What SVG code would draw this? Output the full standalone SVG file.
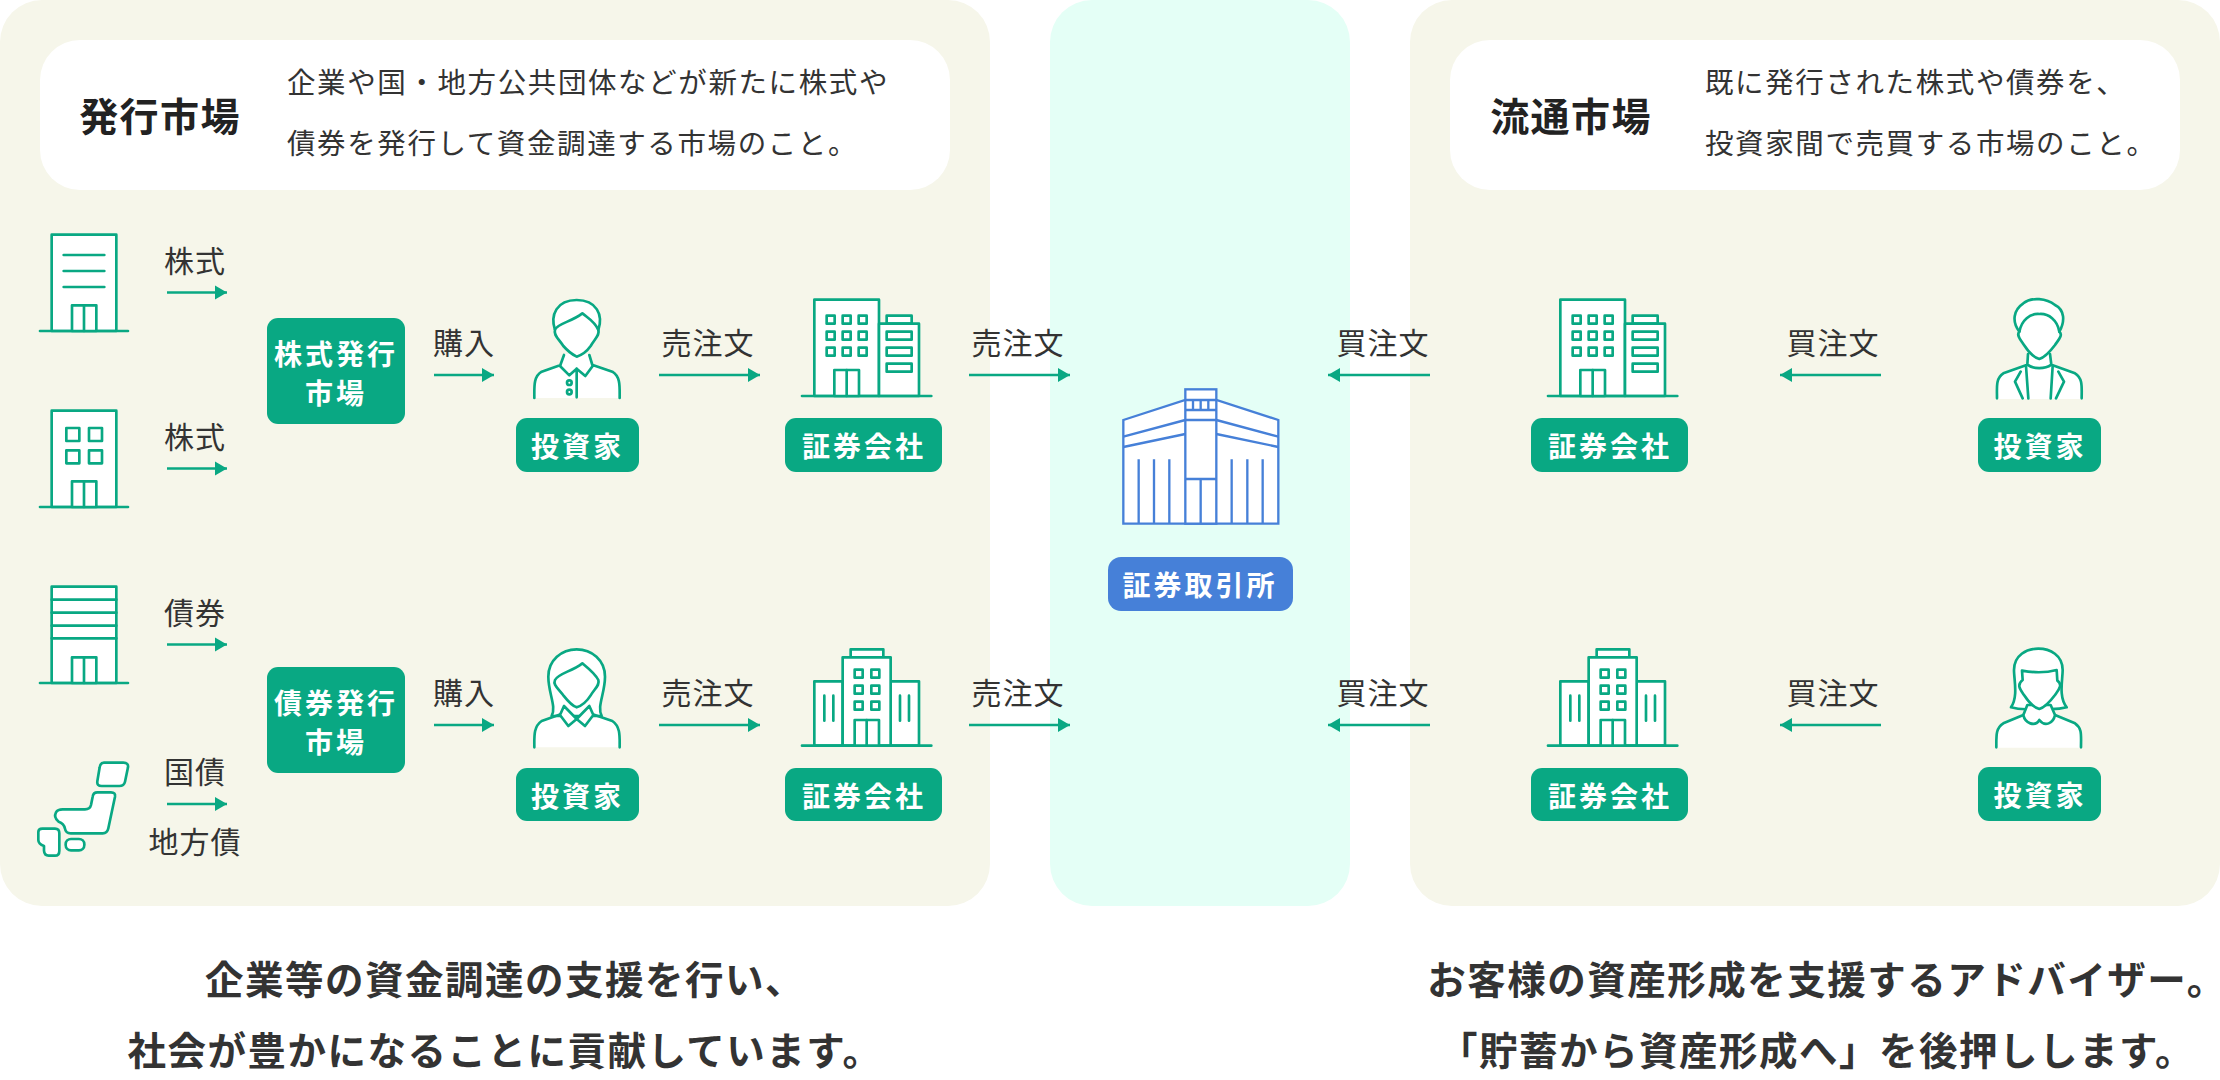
<svg xmlns="http://www.w3.org/2000/svg" xmlns:xlink="http://www.w3.org/1999/xlink" width="2220" height="1080" viewBox="0 0 2220 1080">
<style>
text{font-family:"Noto Sans CJK JP","Noto Sans",sans-serif;text-anchor:middle}
.lbl{font-size:30px;fill:#333;letter-spacing:1px}
.tag{font-size:28px;font-weight:700;fill:#fff;letter-spacing:3px}
.ttl{font-size:39px;font-weight:700;fill:#222;letter-spacing:1.400px}
.desc{font-size:28.500px;fill:#333;letter-spacing:1.600px;text-anchor:start}
.foot{font-size:38.500px;font-weight:700;fill:#333;letter-spacing:1.500px}
.g{fill:#09a883}
.b{fill:#4680d8}
.ic{fill:#fff;stroke:#09a883;stroke-width:8;stroke-linejoin:round;stroke-linecap:round}
.nf{fill:none}
.ib{fill:#fff;stroke:#4680d8;stroke-width:7}
.a{stroke:#09a883;stroke-width:2.600;fill:none}
.e{marker-end:url(#h)}
</style>
<defs>
<marker id="h" markerUnits="userSpaceOnUse" markerWidth="13" markerHeight="15" refX="12" refY="7.500" orient="auto"><path d="M0,0.500 L12,7.500 L0,14.500 Z" fill="#09a883"/></marker>
<g id="b1">
<rect class="ic" x="943" y="59" width="194" height="289"/>
<rect class="ic" x="1160" y="107" width="75" height="24"/>
<rect class="ic" x="1137" y="131" width="120" height="217"/>
<path class="ic" d="M906,348H1294"/>
<rect class="ic" x="1003" y="270" width="74" height="78"/><path class="ic" d="M1040,270V348"/>
<path class="ic nf" d="M980,107h24v24h-24zM1028,107h24v24h-24zM1076,107h24v24h-24zM980,155h24v24h-24zM1028,155h24v24h-24zM1076,155h24v24h-24zM980,203h24v24h-24zM1028,203h24v24h-24zM1076,203h24v24h-24zM1160,155h75v24h-75zM1160,203h75v24h-75zM1160,251h75v24h-75z"/>
</g>
<g id="b2">
<rect class="ic" x="1052" y="88" width="98" height="24"/>
<rect class="ic" x="943" y="184" width="85" height="193"/>
<rect class="ic" x="1172" y="184" width="85" height="193"/>
<rect class="ic" x="1028" y="112" width="144" height="265"/>
<path class="ic" d="M906,377H1294"/>
<rect class="ic" x="1064" y="300" width="73" height="77"/><path class="ic" d="M1100,300V377"/>
<path class="ic nf" d="M1064,149h24v24h-24zM1114,149h24v24h-24zM1064,197h24v24h-24zM1114,197h24v24h-24zM1064,245h24v24h-24zM1114,245h24v24h-24zM973,227v75M1000,227v75M1200,227v75M1227,227v75"/>
</g>
</defs>

<g id="panels">
<rect x="0" y="0" width="990" height="906" rx="42" fill="#f6f6ea"/>
<rect x="1050" y="0" width="300" height="906" rx="42" fill="#e4fff6"/>
<rect x="1410" y="0" width="810" height="906" rx="42" fill="#f6f6ea"/>
</g>

<g id="primary-header">
<rect x="40" y="40" width="910" height="150" rx="40" fill="#fff"/>
<text class="ttl" x="160" y="131">発行市場</text>
<text class="desc" x="287" y="93">企業や国・地方公共団体などが新たに株式や</text>
<text class="desc" x="287" y="154">債券を発行して資金調達する市場のこと。</text>
</g>
<g id="secondary-header">
<rect x="1450" y="40" width="730" height="150" rx="40" fill="#fff"/>
<text class="ttl" x="1571" y="131">流通市場</text>
<text class="desc" x="1705" y="93">既に発行された株式や債券を、</text>
<text class="desc" x="1705" y="154">投資家間で売買する市場のこと。</text>
</g>

<g id="connectors">
<path class="a e" d="M167,292.500H227"/>
<path class="a e" d="M167,468.500H227"/>
<path class="a e" d="M167,644.500H227"/>
<path class="a e" d="M167,804H227"/>
<path class="a e" d="M434,375H494"/>
<path class="a e" d="M434,725H494"/>
<path class="a e" d="M659,375H760"/>
<path class="a e" d="M659,725H760"/>
<path class="a e" d="M969,375H1070"/>
<path class="a e" d="M969,725H1070"/>
<path class="a e" d="M1430,375H1328"/>
<path class="a e" d="M1430,725H1328"/>
<path class="a e" d="M1881,375H1780"/>
<path class="a e" d="M1881,725H1780"/>
</g>

<g id="connector-labels">
<text class="lbl" x="195" y="272">株式</text>
<text class="lbl" x="195" y="448">株式</text>
<text class="lbl" x="195" y="624">債券</text>
<text class="lbl" x="195" y="783">国債</text>
<text class="lbl" x="195" y="853">地方債</text>
<text class="lbl" x="464" y="354">購入</text>
<text class="lbl" x="464" y="704">購入</text>
<text class="lbl" x="708" y="354">売注文</text>
<text class="lbl" x="708" y="704">売注文</text>
<text class="lbl" x="1018" y="354">売注文</text>
<text class="lbl" x="1018" y="704">売注文</text>
<text class="lbl" x="1383" y="354">買注文</text>
<text class="lbl" x="1383" y="704">買注文</text>
<text class="lbl" x="1833" y="354">買注文</text>
<text class="lbl" x="1833" y="704">買注文</text>
</g>

<g id="issuer-1" transform="translate(0 200) scale(.33333)">
<rect class="ic" x="155" y="104" width="194" height="289"/>
<path class="ic" d="M120,393H384M191,165H313M191,213H313M191,261H313"/>
<rect class="ic" x="216" y="316" width="73" height="77"/><path class="ic" d="M252,316V393"/>
</g>
<g id="issuer-2" transform="translate(0 200) scale(.33333)">
<rect class="ic" x="155" y="632" width="194" height="289"/>
<path class="ic" d="M120,921H384"/>
<path class="ic" d="M199,684h39v39h-39zM267,684h39v39h-39zM199,751h39v39h-39zM267,751h39v39h-39z"/>
<rect class="ic" x="216" y="844" width="73" height="77"/><path class="ic" d="M252,844V921"/>
</g>
<g id="issuer-3" transform="translate(0 560) scale(.33333)">
<rect class="ic" x="155" y="80" width="194" height="289"/>
<path class="ic" d="M120,369H384M155,119H349M155,158H349M155,197H349M155,235H349"/>
<rect class="ic" x="216" y="292" width="73" height="77"/><path class="ic" d="M252,292V369"/>
</g>
<g id="issuer-4" transform="translate(0 560) scale(.33333)">
<path class="ic" d="M312,608L370,608Q386,608 384,622L375,665Q372,678 358,678L305,678Q290,678 292,664L299,622Q301,608 312,608Z"/>
<path class="ic" d="M292,697L333,697Q347,697 345,710L325,805Q322,820 308,820L212,820Q197,820 195,806Q192,790 176,785Q160,772 168,757Q173,748 188,748L255,748Q270,748 273,735L278,710Q280,697 292,697Z"/>
<path class="ic" d="M127,806L165,806Q178,806 178,820L178,872Q178,887 165,887L146,887Q133,887 132,872L132,858Q115,852 115,840L115,816Q115,806 127,806Z"/>
<rect class="ic" x="197" y="837" width="56" height="34" rx="16"/>
</g>

<g id="stock-market"><rect class="g" x="267" y="318" width="138" height="106" rx="11"/>
<text class="tag" x="336" y="365">株式発行</text><text class="tag" x="336" y="404">市場</text></g>
<g id="bond-market"><rect class="g" x="267" y="667" width="138" height="106" rx="11"/>
<text class="tag" x="336" y="714">債券発行</text><text class="tag" x="336" y="753">市場</text></g>

<g id="investor-1">
<g transform="translate(500 280) scale(.33333)">
<path d="M103,354C103,320 100,290 125,275L182,255L192,222L268,222L278,255L337,275C362,290 359,320 359,354Z" fill="#fff"/>
<path class="ic nf" d="M103,354C103,320 100,290 125,275L182,255M359,354C359,320 362,290 337,275L278,255M192,225L180,258L208,286L230,266L256,288L278,258L268,225M230,266V352"/>
<path class="ic" d="M165,150C150,105 170,60 230,60C290,60 310,105 295,150C300,165 285,175 272,198C260,215 245,225 230,230C220,225 205,215 190,198C175,175 160,165 165,150Z"/>
<path class="ic nf" d="M165,148C175,130 215,125 247,100C265,115 285,125 295,150"/>
<circle class="ic" cx="208" cy="308" r="7"/><circle class="ic" cx="208" cy="336" r="7"/>
</g>
<rect class="g" x="516" y="418" width="123" height="54" rx="11"/><text class="tag" x="577.500" y="457">投資家</text>
</g>
<g id="securities-1">
<use xlink:href="#b1" href="#b1" transform="translate(500 280) scale(.33333)"/>
<rect class="g" x="785" y="418" width="157" height="54" rx="11"/><text class="tag" x="864" y="457">証券会社</text>
</g>
<g id="investor-2">
<g transform="translate(500 620) scale(.33333)">
<path d="M103,382C103,350 100,320 125,303L182,280L192,250L268,250L278,280L337,303C362,320 359,350 359,382Z" fill="#fff"/>
<path class="ic" d="M155,288C170,260 145,220 145,170C145,120 185,88 230,88C275,88 315,120 315,170C315,220 290,260 305,288Z"/>
<path class="ic nf" d="M103,382C103,350 100,320 125,303L182,283M359,382C359,350 362,320 337,303L278,283"/>
<path class="ic" d="M192,258L180,285L205,318L230,297L255,318L280,285L268,258L230,297Z"/>
<path class="ic" d="M165,180C175,160 215,155 247,130C265,145 285,160 295,180C300,195 285,205 272,226C260,245 245,257 230,262C215,257 205,245 190,226C175,205 158,195 165,180Z"/>
</g>
<rect class="g" x="516" y="768" width="123" height="53" rx="11"/><text class="tag" x="577.500" y="807">投資家</text>
</g>
<g id="securities-2">
<use xlink:href="#b2" href="#b2" transform="translate(500 620) scale(.33333)"/>
<rect class="g" x="785" y="768" width="157" height="53" rx="11"/><text class="tag" x="864" y="807">証券会社</text>
</g>

<g id="exchange">
<g transform="translate(1080 360) scale(.33333)">
<path class="ib" d="M130,491V180L316,120H409L595,180V491Z"/>
<path class="ib nf" d="M130,230L316,180M130,261L316,222M595,230L409,180M595,261L409,222M176,298V491M222,298V491M268,298V491M455,298V491M502,298V491M548,298V491"/>
<rect class="ib" x="316" y="88" width="93" height="403"/>
<path class="ib nf" d="M316,120H409M316,150H409M316,180H409M316,357H409M362,357V491M339,120V150M362,120V150M385,120V150"/>
</g>
<rect class="b" x="1108" y="557" width="185" height="54" rx="13"/><text class="tag" x="1200" y="596">証券取引所</text>
</g>

<g id="securities-3">
<use xlink:href="#b1" href="#b1" transform="translate(1246 280) scale(.33333)"/>
<rect class="g" x="1531" y="418" width="157" height="54" rx="11"/><text class="tag" x="1610" y="457">証券会社</text>
</g>
<g id="securities-4">
<use xlink:href="#b2" href="#b2" transform="translate(1246 620) scale(.33333)"/>
<rect class="g" x="1531" y="768" width="157" height="53" rx="11"/><text class="tag" x="1610" y="807">証券会社</text>
</g>
<g id="investor-3">
<g transform="translate(1950 280) scale(.33333)">
<path d="M140,357C140,320 135,295 160,280L228,258L236,225L298,225L306,258L375,280C400,295 396,320 396,357Z" fill="#fff"/>
<path class="ic nf" d="M141,355C141,320 137,295 160,280L232,254M395,355C395,320 399,295 375,280L304,254M234,222L232,254C250,268 285,268 304,254L300,222"/>
<path class="ic nf" d="M218,355L195,305L212,275M318,355L342,305L325,275M228,258L235,355M308,258L302,355"/>
<path class="ic" d="M208,155C185,125 190,90 220,70C245,50 290,55 315,75C345,90 345,125 328,155C340,165 325,180 315,195C300,215 285,232 268,237C250,232 235,215 222,195C212,180 198,165 208,155Z"/>
<path class="ic nf" d="M208,155C215,120 240,100 268,102C296,100 322,120 328,155"/>
</g>
<rect class="g" x="1978" y="418" width="123" height="54" rx="11"/><text class="tag" x="2040" y="457">投資家</text>
</g>
<g id="investor-4">
<g transform="translate(1950 630) scale(.33333)">
<path d="M138,353C138,315 135,295 160,280L232,252L236,222L298,222L304,252L375,280C400,295 394,315 394,353Z" fill="#fff"/>
<path class="ic nf" d="M139,352C139,315 137,295 160,280L220,255M393,352C393,315 397,295 375,280L315,255"/>
<path class="ic" d="M183,232C205,200 192,150 192,120C192,75 230,56 265,56C300,56 338,75 338,120C338,150 325,200 350,232C320,240 290,238 268,235C245,238 210,240 183,232Z"/>
<path class="ic" d="M220,255C225,280 255,292 268,270C285,292 310,280 315,255L302,225L232,225Z"/>
<path class="ic" d="M216,122C250,128 290,128 320,120L322,152C340,165 325,180 315,195C300,215 285,232 268,237C250,232 235,215 222,195C212,180 198,165 218,150Z"/>
</g>
<rect class="g" x="1978" y="767" width="123" height="54" rx="11"/><text class="tag" x="2040" y="806">投資家</text>
</g>

<g id="footer">
<text class="foot" x="505" y="994">企業等の資金調達の支援を行い、</text>
<text class="foot" x="505" y="1065">社会が豊かになることに貢献しています。</text>
<text class="foot" x="1827" y="994">お客様の資産形成を支援するアドバイザー。</text>
<text class="foot" x="1817" y="1065">「貯蓄から資産形成へ」を後押しします。</text>
</g>
</svg>
